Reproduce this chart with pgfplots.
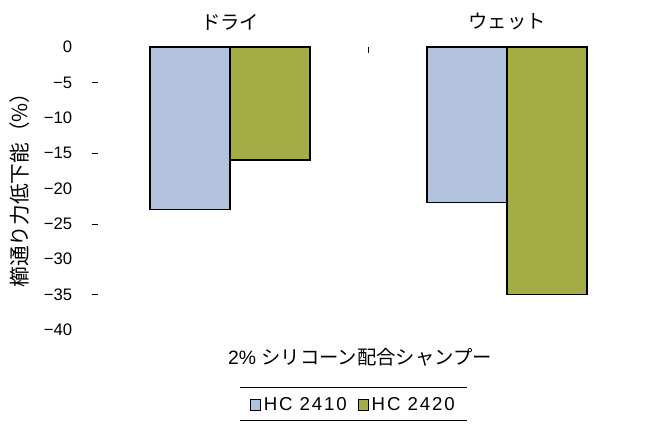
\documentclass[border=0pt]{standalone}
\usepackage{pgfplots}
\pgfplotsset{compat=1.18}
\usepackage{fontspec}
\setmainfont{Liberation Sans}
\newfontfamily\jp{Noto Sans CJK JP}
\newfontfamily\legfont[LetterSpace=10]{Liberation Sans}
\definecolor{cA}{RGB}{179,194,220}
\definecolor{cB}{RGB}{164,172,70}
\begin{document}
\begin{tikzpicture}
\path[use as bounding box] (0pt,0pt) rectangle (495.75pt,321pt);
\begin{axis}[
  at={(68.625pt,73.5pt)}, anchor=south west,
  scale only axis, width=415.5pt, height=212.25pt,
  xmin=-0.5, xmax=1.5, ymin=-40, ymax=0,
  axis line style={draw=none},
  tick align=inside, major tick length=0pt, minor tick length=4.5pt,
  minor tick style={draw=black, line width=0.5pt},
  xtick={0,1}, xticklabels={ドライ,ウェット},
  minor xtick={0.5},
  xtick pos=upper,
  xticklabel style={font=\jp\fontsize{14.5}{14.5}\selectfont, yshift=9pt},
  ytick={-40,-35,...,0},
  yticklabels={−40,−35,−30,−25,−20,−15,−10,−5,0},
  minor ytick={-35,-25,-15,-5},
  ytick pos=left,
  yticklabel style={font=\fontsize{12.5}{12.5}\selectfont, xshift=-11pt},
  legend style={at={(0.473,-0.265)}, anchor=center, draw=none, fill=none,
    legend columns=2, font=\legfont\fontsize{14}{14}\selectfont,
    /tikz/every even column/.append style={column sep=6pt},
    inner sep=1pt},
  legend image code/.code={\draw[#1, line width=0.6pt] (0pt,-4pt) rectangle (8pt,4pt);},
]
\addplot[ybar, bar width=0.289, bar shift=-0.1445, fill=cA, draw=black, line width=1.1pt]
  coordinates {(0,-23) (1,-22)};
\addplot[ybar, bar width=0.289, bar shift=0.1445, fill=cB, draw=black, line width=1.1pt]
  coordinates {(0,-16) (1,-35)};
\legend{HC 2410, HC 2420}
\end{axis}
\node[rotate=90] at (15pt,182.25pt) {\jp\fontsize{15.5}{15.5}\selectfont 櫛通り力低下能（\%）};
\node at (270pt,53.25pt) {\fontsize{14.5}{14.5}\selectfont 2\% {\jp シリコーン配合シャンプー}};
\draw[line width=0.75pt] (180pt,30pt) -- (350.25pt,30pt);
\draw[line width=0.75pt] (180pt,5.25pt) -- (350.25pt,5.25pt);
\end{tikzpicture}
\end{document}
